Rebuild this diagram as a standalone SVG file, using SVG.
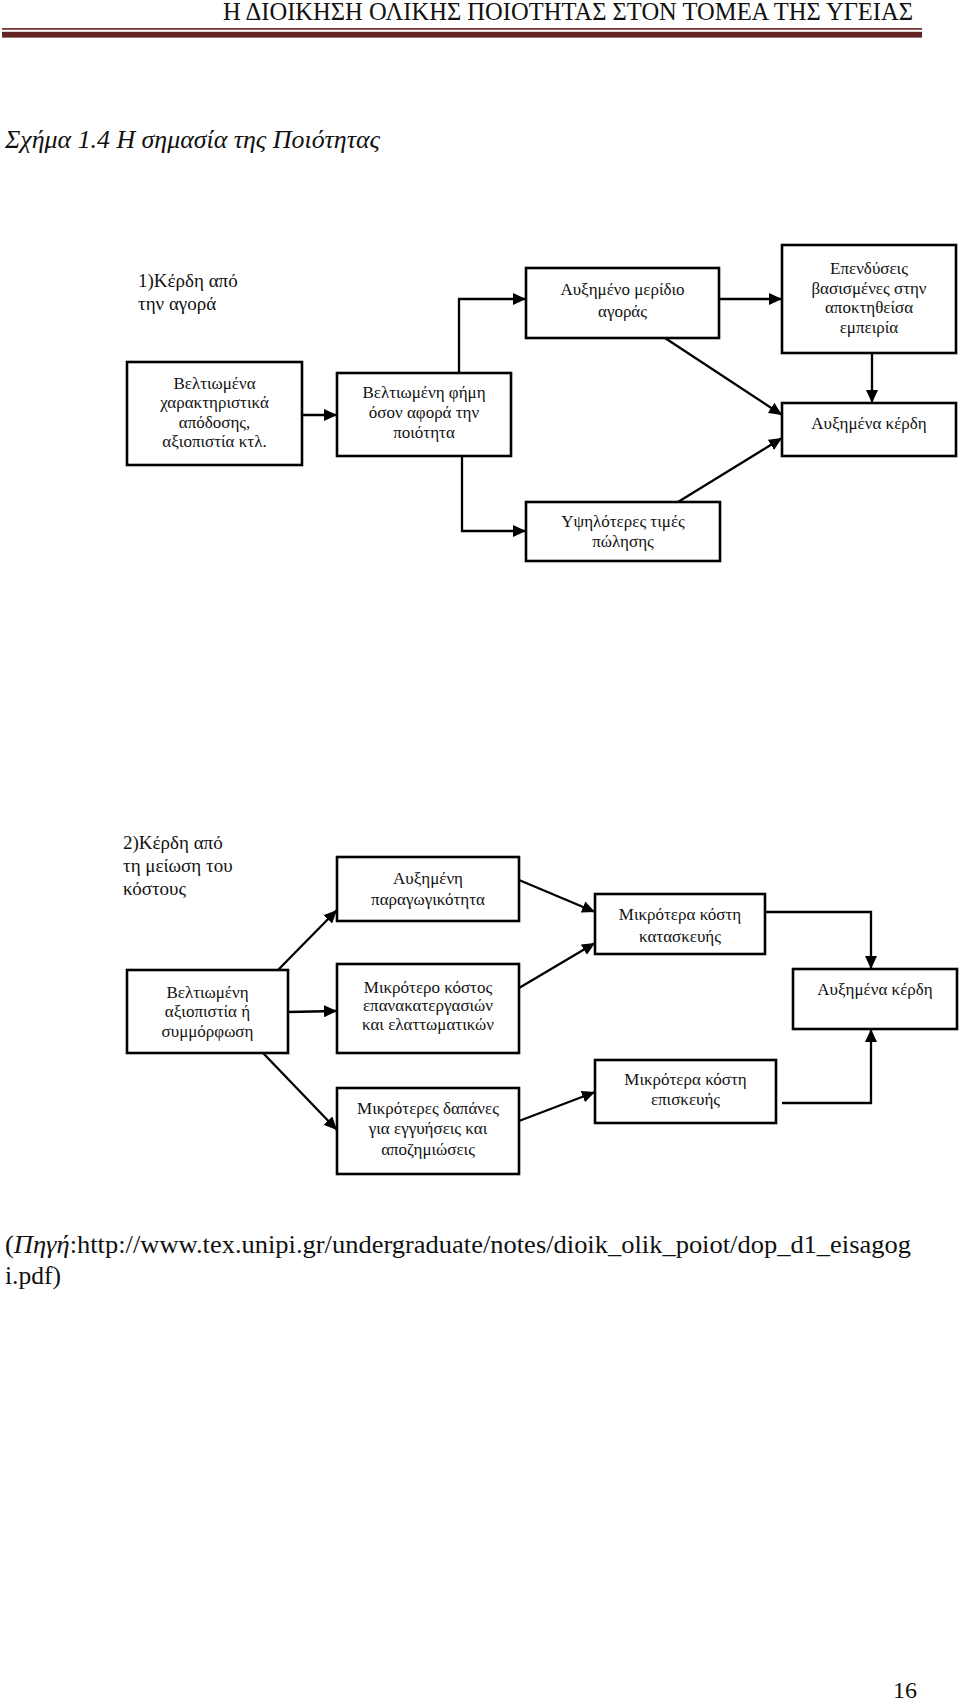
<svg xmlns="http://www.w3.org/2000/svg" width="960" height="1703" viewBox="0 0 960 1703">
<style>
.bg{fill:#fff}
.box{fill:#fff;stroke:#000;stroke-width:2.6}
.t{font-family:"Liberation Serif","Times New Roman",serif;font-size:17px;fill:#111;text-anchor:middle}
.lbl{font-family:"Liberation Serif","Times New Roman",serif;font-size:19px;fill:#111}
.ser{font-family:"Liberation Serif","Times New Roman",serif;fill:#111}
.con{fill:none;stroke:#000;stroke-width:2.3;marker-end:url(#ah)}
</style>
<defs>
<marker id="ah" markerUnits="userSpaceOnUse" markerWidth="13" markerHeight="12" refX="13" refY="6" orient="auto">
<path d="M0,0 L13,6 L0,12 z" fill="#000"/>
</marker>
</defs>
<rect class="bg" x="0" y="0" width="960" height="1703"/>
<g id="header">
<text class="ser" x="913" y="20" text-anchor="end" font-size="25" textLength="690" lengthAdjust="spacingAndGlyphs">Η ΔΙΟΙΚΗΣΗ ΟΛΙΚΗΣ ΠΟΙΟΤΗΤΑΣ ΣΤΟΝ ΤΟΜΕΑ ΤΗΣ ΥΓΕΙΑΣ</text>
<rect x="2" y="28" width="920" height="1.8" fill="#7a3a38"/>
<rect x="2" y="31.8" width="920" height="5.8" fill="#622423"/>
</g>
<g id="title">
<text class="ser" x="5" y="148" font-size="25" font-style="italic" textLength="375" lengthAdjust="spacingAndGlyphs">Σχήμα 1.4 Η σημασία της Ποιότητας</text>
</g>
<g id="label1">
<text class="lbl" x="138" y="287">1)Κέρδη από</text>
<text class="lbl" x="138" y="310">την αγορά</text>
</g>
<g id="n-veltiomena">
<rect class="box" x="127" y="362" width="175" height="103"/>
<text class="t" x="214.5" y="389">Βελτιωμένα</text>
<text class="t" x="214.5" y="408">χαρακτηριστικά</text>
<text class="t" x="214.5" y="428">απόδοσης,</text>
<text class="t" x="214.5" y="447">αξιοπιστία κτλ.</text>
</g>
<g id="n-fimi">
<rect class="box" x="337" y="373" width="174" height="83"/>
<text class="t" x="424" y="398">Βελτιωμένη φήμη</text>
<text class="t" x="424" y="418">όσον αφορά την</text>
<text class="t" x="424" y="438">ποιότητα</text>
</g>
<g id="n-meridio">
<rect class="box" x="526" y="268" width="193" height="70"/>
<text class="t" x="622.5" y="295">Αυξημένο μερίδιο</text>
<text class="t" x="622.5" y="317">αγοράς</text>
</g>
<g id="n-ependyseis">
<rect class="box" x="782" y="245" width="174" height="108"/>
<text class="t" x="869" y="274">Επενδύσεις</text>
<text class="t" x="869" y="293.5">βασισμένες στην</text>
<text class="t" x="869" y="313">αποκτηθείσα</text>
<text class="t" x="869" y="332.5">εμπειρία</text>
</g>
<g id="n-kerdi1">
<rect class="box" x="782" y="403" width="174" height="53"/>
<text class="t" x="869" y="429">Αυξημένα κέρδη</text>
</g>
<g id="n-times">
<rect class="box" x="526" y="502" width="194" height="59"/>
<text class="t" x="623" y="527">Υψηλότερες τιμές</text>
<text class="t" x="623" y="547">πώλησης</text>
</g>
<g id="label2">
<text class="lbl" x="123" y="849">2)Κέρδη από</text>
<text class="lbl" x="123" y="872">τη μείωση του</text>
<text class="lbl" x="123" y="895">κόστους</text>
</g>
<g id="n-paragogikotita">
<rect class="box" x="337" y="857" width="182" height="64"/>
<text class="t" x="428" y="884">Αυξημένη</text>
<text class="t" x="428" y="905">παραγωγικότητα</text>
</g>
<g id="n-axiopistia">
<rect class="box" x="127" y="970" width="161" height="83"/>
<text class="t" x="207.5" y="998">Βελτιωμένη</text>
<text class="t" x="207.5" y="1017">αξιοπιστία ή</text>
<text class="t" x="207.5" y="1037">συμμόρφωση</text>
</g>
<g id="n-epanakat">
<rect class="box" x="337" y="964" width="182" height="89"/>
<text class="t" x="428" y="993">Μικρότερο κόστος</text>
<text class="t" x="428" y="1011">επανακατεργασιών</text>
<text class="t" x="428" y="1030">και ελαττωματικών</text>
</g>
<g id="n-dapanes">
<rect class="box" x="337" y="1088" width="182" height="86"/>
<text class="t" x="428" y="1114">Μικρότερες δαπάνες</text>
<text class="t" x="428" y="1134">για εγγυήσεις και</text>
<text class="t" x="428" y="1155">αποζημιώσεις</text>
</g>
<g id="n-kataskeui">
<rect class="box" x="595" y="894" width="170" height="60"/>
<text class="t" x="680" y="920">Μικρότερα κόστη</text>
<text class="t" x="680" y="942">κατασκευής</text>
</g>
<g id="n-kerdi2">
<rect class="box" x="793" y="969" width="164" height="60"/>
<text class="t" x="875" y="995">Αυξημένα κέρδη</text>
</g>
<g id="n-episkeui">
<rect class="box" x="595" y="1060" width="181" height="63"/>
<text class="t" x="685.5" y="1085">Μικρότερα κόστη</text>
<text class="t" x="685.5" y="1105">επισκευής</text>
</g>
<g id="connectors">
<path class="con" d="M302,415 H337"/>
<path class="con" d="M459,373 V299 H526"/>
<path class="con" d="M719,299 H782"/>
<path class="con" d="M872,353 V403"/>
<path class="con" d="M665,338 L782,415"/>
<path class="con" d="M462,456 V531 H526"/>
<path class="con" d="M678,502 L782,438"/>
<path class="con" d="M278,970 L337,910"/>
<path class="con" d="M288,1012 L337,1011"/>
<path class="con" d="M263,1053 L337,1130"/>
<path class="con" d="M519,880 L595,912"/>
<path class="con" d="M519,988 L595,943"/>
<path class="con" d="M519,1121 L595,1092"/>
<path class="con" d="M765,912 H871 V969"/>
<path class="con" d="M782,1103 H871 V1029"/>
</g>
<g id="source">
<text class="ser" x="5" y="1253" font-size="26" textLength="906" lengthAdjust="spacingAndGlyphs">(<tspan font-style="italic">Πηγή</tspan>:http://www.tex.unipi.gr/undergraduate/notes/dioik_olik_poiot/dop_d1_eisagog</text>
<text class="ser" x="5" y="1284" font-size="26" textLength="56" lengthAdjust="spacingAndGlyphs">i.pdf)</text>
</g>
<g id="page">
<text class="ser" x="893" y="1698" font-size="24">16</text>
</g>
</svg>
